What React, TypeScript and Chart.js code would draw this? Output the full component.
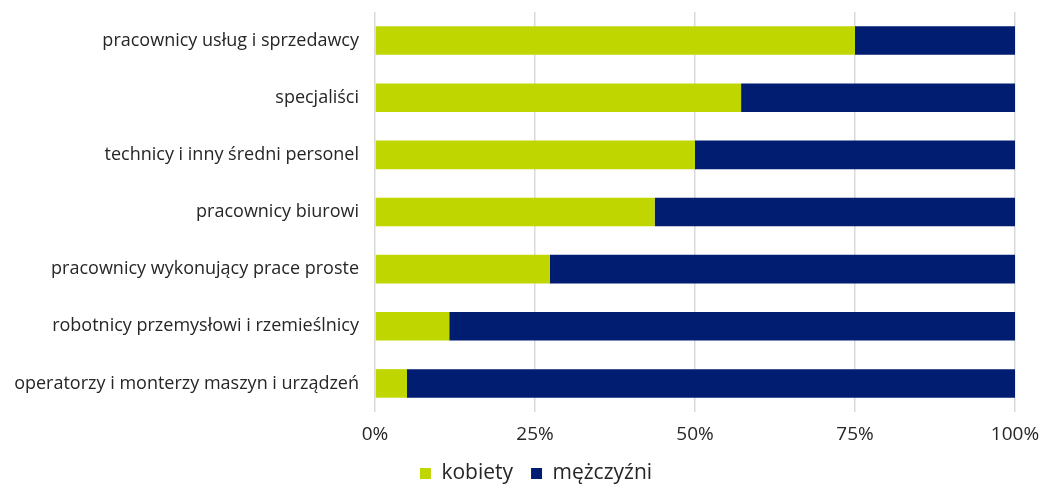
import React, { useEffect, useRef } from "react";
import { Chart, registerables } from "chart.js";

Chart.register(...registerables);

const categories = [
  "pracownicy usług i sprzedawcy",
  "specjaliści",
  "technicy i inny średni personel",
  "pracownicy biurowi",
  "pracownicy wykonujący prace proste",
  "robotnicy przemysłowi i rzemieślnicy",
  "operatorzy i monterzy maszyn i urządzeń",
];
const kobiety = [75.0, 57.2, 50.0, 43.7, 27.3, 11.6, 5.0];
const mezczyzni = [25.0, 42.8, 50.0, 56.3, 72.7, 88.4, 95.0];
const xTicks = [0, 25, 50, 75, 100];

const FONT = "'Open Sans', sans-serif";

const legendPlace = {
  id: "legendPlace",
  afterLayout(chart: any) {
    const lg = chart.legend;
    if (lg) {
      lg.left = 30;
      lg.right = chart.width;
      lg.top = 445;
      lg.bottom = chart.height;
      lg.width = lg.right - lg.left;
      lg.height = lg.bottom - lg.top;
    }
  },
};

export default function App() {
  const ref = useRef<HTMLCanvasElement | null>(null);
  useEffect(() => {
    document.body.style.margin = "0";
    const ctx = ref.current!;
    const chart = new Chart(ctx, {
      type: "bar",
      data: {
        labels: categories,
        datasets: [
          { label: "kobiety", data: kobiety, backgroundColor: "#bfd600", barPercentage: 0.5, categoryPercentage: 1 },
          { label: "mężczyźni", data: mezczyzni, backgroundColor: "#001d72", barPercentage: 0.5, categoryPercentage: 1 },
        ],
      },
      options: {
        indexAxis: "y",
        animation: false,
        responsive: false,
        layout: { padding: { top: 12, right: 0, bottom: 0, left: 0 } },
        plugins: {
          tooltip: { enabled: false },
          legend: {
            position: "bottom",
            maxHeight: 36,
            labels: {
              boxWidth: 11,
              boxHeight: 11,
              padding: 18,
              color: "#262626",
              font: { family: FONT, size: 21 },
            },
          },
        },
        scales: {
          x: {
            stacked: true,
            min: 0,
            max: 100,
            afterBuildTicks: (s: any) => {
              s.ticks = xTicks.map((v) => ({ value: v }));
            },
            afterFit: (s: any) => {
              s.height = 36;
              s.paddingRight = 27;
              s.paddingLeft = 0;
            },
            ticks: {
              color: "#262626",
              font: { family: FONT, size: 19 },
              padding: 11,
              callback: (v: any) => v + "%",
            },
            grid: { color: "#d9d9d9", lineWidth: 1.5, drawTicks: false },
            border: { display: false },
          },
          y: {
            stacked: true,
            afterFit: (s: any) => {
              s.width = 375;
              s.paddingTop = 0;
              s.paddingBottom = 0;
            },
            ticks: {
              color: "#262626",
              font: { family: FONT, size: 18 },
              padding: 8,
            },
            grid: { display: false },
            border: { display: false },
          },
        },
      },
      plugins: [legendPlace],
    } as any);
    return () => chart.destroy();
  }, []);
  return (
    <div style={{ width: 1042, height: 484 }}>
      <canvas ref={ref} width={1042} height={484} />
    </div>
  );
}
